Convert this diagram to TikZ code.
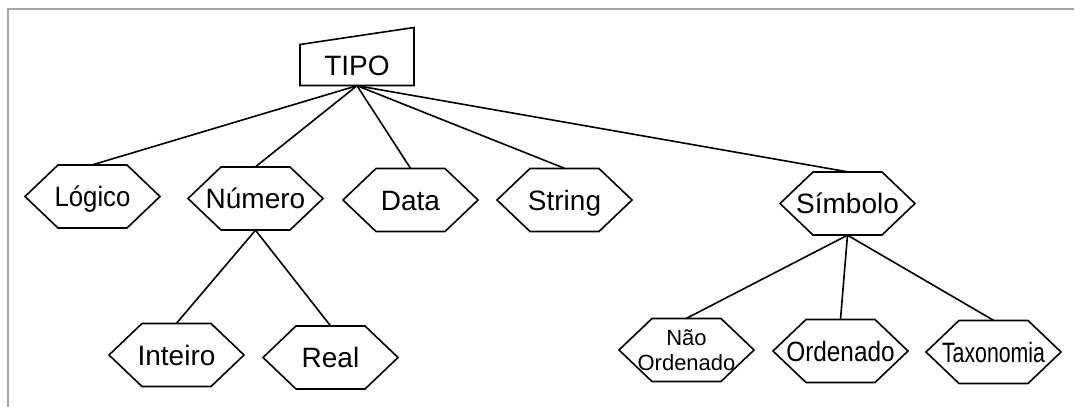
\documentclass[tikz,border=0pt]{standalone}
\usepackage{fontspec}
\setmainfont{Liberation Sans}
\begin{document}
\begin{tikzpicture}[x=1pt,y=-1pt,
  labelbox/.style={draw=none, inner sep=0pt, font=\fontsize{28}{31}\selectfont},
  hexbox/.style={labelbox, minimum height=63pt, text height=20pt, text depth=0pt},
  hexline/.style={draw=black, line width=1.6pt, line join=miter},
  link/.style={draw=black, line width=1.6pt},
  frameline/.style={draw=black!35, line width=2.5pt}]
\useasboundingbox (0,0) rectangle (1074,407);
\fill[white] (0,0) rectangle (1074,407);
% outer frame (top and left edges)
\draw[frameline] (8,407) -- (8,9) -- (1074,9);

% root node
\node[labelbox, minimum width=114pt, minimum height=41pt, text height=20pt, text depth=0pt] (tipo) at (357,65) {TIPO};
\draw[hexline] ([shift={(-57,20.5)}]tipo.center) -- ([shift={(-57,-20.5)}]tipo.center)
  -- ([shift={(57,-37.5)}]tipo.center) -- ([shift={(57,20.5)}]tipo.center) -- cycle;

% first level
\node[hexbox] (logico) at (92.5,196.5) {\scalebox{0.92}[1]{Lógico}};
\node[hexbox] (numero) at (255.5,198.5) {Número};
\node[hexbox] (data) at (410.5,200) {Data};
\node[hexbox] (string) at (564.5,200) {String};
\node[hexbox] (simbolo) at (847.5,203.5) {Símbolo};

% second level
\node[hexbox] (inteiro) at (176.5,355) {Inteiro};
\node[hexbox] (real) at (330.5,357.5) {Real};
\node[labelbox, minimum height=63pt, font=\fontsize{22}{25}\selectfont, align=center] (naoord) at (686.5,350) {Não\\Ordenado};
\node[hexbox] (ordenado) at (840.5,351) {\scalebox{0.87}[1]{Ordenado}};
\node[hexbox] (taxonomia) at (993.5,352) {\scalebox{0.76}[1]{Taxonomia}};

% hexagon outlines, fixed size around each centre
\foreach \n in {logico,numero,data,string,simbolo,inteiro,real,naoord,ordenado,taxonomia}
  \draw[hexline] ([shift={(-34.5,-31.5)}]\n.center) -- ([shift={(-67.5,0)}]\n.center)
    -- ([shift={(-34.5,31.5)}]\n.center) -- ([shift={(34.5,31.5)}]\n.center)
    -- ([shift={(67.5,0)}]\n.center) -- ([shift={(34.5,-31.5)}]\n.center) -- cycle;

% connectors
\foreach \n in {logico,numero,data,string,simbolo}
  \draw[link] (tipo.south) -- (\n.north);
\foreach \n in {inteiro,real}
  \draw[link] (numero.south) -- (\n.north);
\foreach \n in {naoord,ordenado,taxonomia}
  \draw[link] (simbolo.south) -- (\n.north);
\end{tikzpicture}
\end{document}
